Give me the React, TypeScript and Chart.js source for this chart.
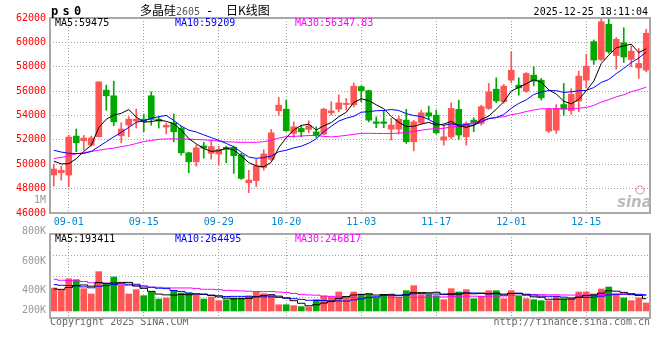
import React, { useEffect, useRef } from 'react';
import { Chart, registerables } from 'chart.js';

Chart.register(...registerables);

// ---------------- DATA ----------------
const dates = ['08-28','08-29','09-01','09-02','09-03','09-04','09-05','09-08','09-09','09-10','09-11','09-12','09-15','09-16','09-17','09-18','09-19','09-22','09-23','09-24','09-25','09-26','09-29','09-30','10-09','10-10','10-13','10-14','10-15','10-16','10-17','10-20','10-21','10-22','10-23','10-24','10-27','10-28','10-29','10-30','10-31','11-03','11-04','11-05','11-06','11-07','11-10','11-11','11-12','11-13','11-14','11-17','11-18','11-19','11-20','11-21','11-24','11-25','11-26','11-27','11-28','12-01','12-02','12-03','12-04','12-05','12-08','12-09','12-10','12-11','12-12','12-15','12-16','12-17','12-18','12-19','12-22','12-23','12-24','12-25'];

const dateTicks = ['09-01', '09-15', '09-29', '10-20', '11-03', '11-17', '12-01', '12-15'];

const opens = [49115,49300,49115,52310,51930,51570,52250,56080,55615,52340,
  53210,53540,53700,55615,53700,53050,53400,52940,50940,50200,
  51500,50900,50840,51390,51390,50760,48480,48650,49740,50400,
  54400,54520,52530,52940,52860,52660,52480,54220,54520,54900,
  54880,56370,56040,53480,53480,52880,52880,53620,51840,53400,
  54220,54030,51980,52250,54500,52250,53620,53350,54580,56160,
  55130,56900,56490,56000,57310,56900,52720,52800,54900,54400,
  55180,56900,60060,58600,61480,58920,59970,58600,57910,57720];

const highs = [50020,49850,52390,52890,52370,52310,56760,56490,56820,53400,
  53900,54530,54120,55940,53870,53380,54120,53130,51000,51570,
  51800,51980,51490,51490,51490,50900,49500,50400,51200,52860,
  55480,55260,53480,53210,53570,53070,54600,55130,55700,55400,
  56680,56440,56080,53890,54400,53760,53950,54500,53600,54440,
  54770,54440,53210,55040,55260,53480,53820,54850,56630,57090,
  56550,59230,57090,57530,58000,57040,54600,54900,56630,56200,
  57640,59010,60200,62000,62000,60400,61200,59720,59500,61070];

const lows = [48210,48700,48160,51030,51160,51490,52250,54440,53160,51760,
  52260,52970,52670,53200,52970,52500,51840,50750,49300,49850,
  50500,50430,49930,50120,49250,48760,47660,48160,49520,50300,
  54030,52700,52200,52250,52580,52200,52400,54030,54300,54440,
  54700,55130,53480,53000,53000,51980,52480,51710,51100,53300,
  53700,52480,51570,52100,52040,51570,52670,53200,54500,55050,
  55000,56680,55670,55900,56430,55260,52600,52530,54030,54100,
  54300,56270,58190,58500,59100,57800,58350,58000,57040,57580];

const closes = [49610,49500,52230,51760,52150,52150,56760,55615,53480,52890,
  53700,53700,53500,53680,53540,53200,52660,50940,50200,51350,
  51330,51450,51220,51220,50700,48840,48700,49850,50840,52580,
  54850,52750,53070,52660,53150,52390,54520,54380,55040,55000,
  56400,56040,53620,53350,53350,53210,53700,51840,53480,54220,
  53950,52580,52250,54580,52400,53350,53350,54720,55940,55200,
  56410,57720,56270,57450,56820,55450,54500,54580,54520,55750,
  57230,58050,58550,61700,59230,60250,58800,59280,58270,60750];

const volumes = [367000,340000,515000,499000,356000,271000,627000,431000,542000,410000,
  271000,340000,244000,303000,191000,207000,324000,287000,287000,260000,
  191000,223000,164000,180000,207000,207000,244000,303000,276000,260000,
  100000,100000,85000,69000,64000,180000,234000,218000,303000,218000,
  303000,271000,271000,207000,260000,271000,207000,324000,404000,260000,
  260000,244000,180000,356000,303000,340000,196000,234000,324000,324000,
  196000,324000,234000,196000,180000,164000,164000,234000,196000,196000,
  303000,303000,271000,351000,383000,271000,207000,164000,207000,128000];

// moving-average values before enough history is on screen
const ma5Lead = [50250, 50030, 50050, 50450];
const ma10Lead = [51150, 51000, 50900, 50880, 50890, 51050, 51450, 51850, 52250];
const ma30Lead = [50470,50560,50700,50850,50950,51050,51150,51250,51320,51450,51550,51700,51860,51950,52050,52080,52080,52070,52060,52030,52000,51960,51900,51850,51820,51800,51800,51800,51850];
const vma5Lead = [351000, 345000, 375000, 405000];
const vma10Lead = [420000, 410000, 405000, 400000, 385000, 370000, 395000, 405000, 420000];
const vma30Lead = [505000,490000,486000,484000,470000,450000,447000,447000,440000,415000,410000,400000,380000,378000,378000,370000,367000,367000,367000,360000,346000,346000,340000,330000,325000,320000,315000,310000,308000];

const priceLegend = ['MA5:59475', 'MA10:59209', 'MA30:56347.83'];
const volLegend = ['MA5:193411', 'MA10:264495', 'MA30:246817'];
const volLabels = ['800K', '600K', '400K', '200K'];

const PRICE_MIN = 46000;
const PRICE_MAX = 62000;
const PRICE_STEP = 2000;
const VOL_MIN = -112000;
const VOL_MAX = 1228000;

// ---------------- STYLE ----------------
const MONO = "'DejaVu Sans Mono', 'Liberation Mono', monospace";
const CJK = "'Noto Sans CJK SC', sans-serif";
const RED = '#ff5555';
const GREEN = '#00a800';
const GRID = '#a0a0a0';
const FRAME = '#a8a8a8';

function movingAvg(values: number[], n: number, lead: number[]) {
  return values.map((_, i) => {
    if (i < n - 1) return lead[i];
    let s = 0;
    for (let j = i - n + 1; j <= i; j++) s += values[j];
    return s / n;
  });
}

function txt(ctx: CanvasRenderingContext2D, s: string, x: number, y: number, color: string, font: string, align: CanvasTextAlign = 'left', baseline: CanvasTextBaseline = 'alphabetic') {
  ctx.fillStyle = color;
  ctx.font = font;
  ctx.textAlign = align;
  ctx.textBaseline = baseline;
  ctx.fillText(s, x, y);
}

function drawFrame(chart: any) {
  const ctx = chart.ctx;
  const a = chart.chartArea;
  ctx.save();
  ctx.setLineDash([]);
  ctx.strokeStyle = FRAME;
  ctx.lineWidth = 2;
  ctx.strokeRect(a.left, a.top, a.right - a.left, a.bottom - a.top);
  ctx.restore();
}

const gridColor = (c: any) => (dateTicks.includes(dates[c.index]) ? GRID : 'rgba(0,0,0,0)');

export default function App() {
  const priceRef = useRef<HTMLCanvasElement>(null);
  const volRef = useRef<HTMLCanvasElement>(null);

  useEffect(() => {
    const up = closes.map((c, i) => c >= opens[i]);
    const colors = up.map((u) => (u ? RED : GREEN));
    const ma5 = movingAvg(closes, 5, ma5Lead);
    const ma10 = movingAvg(closes, 10, ma10Lead);
    const ma30 = movingAvg(closes, 30, ma30Lead);
    const vma5 = movingAvg(volumes, 5, vma5Lead);
    const vma10 = movingAvg(volumes, 10, vma10Lead);
    const vma30 = movingAvg(volumes, 30, vma30Lead);

    const lineDs = (data: number[], color: string, stepped: any = false) => ({
      type: 'line' as const,
      data,
      borderColor: color,
      borderWidth: 1,
      pointRadius: 0,
      tension: 0,
      stepped,
      order: 0,
    });

    const priceOverlay = {
      id: 'priceOverlay',
      afterDraw(chart: any) {
        drawFrame(chart);
        const ctx = chart.ctx;
        ctx.save();
        // header
        const bold = `bold 12px ${MONO}`;
        txt(ctx, 'p', 51, 15, '#000', bold);
        txt(ctx, 's', 62.5, 15, '#000', bold);
        txt(ctx, '0', 74, 15, '#000', bold);
        txt(ctx, '多晶硅', 140, 15, '#000', `12px ${CJK}`);
        txt(ctx, '2605', 176, 15, '#555', `10px ${MONO}`);
        txt(ctx, '-', 206, 15, '#000', `12px ${MONO}`);
        txt(ctx, '日K线图', 226, 15, '#000', `12px ${CJK}`);
        txt(ctx, '2025-12-25 18:11:04', 648, 15, '#000', `10px ${MONO}`, 'right');
        // legends
        const f = `10px ${MONO}`;
        txt(ctx, priceLegend[0], 55, 26, '#000', f);
        txt(ctx, priceLegend[1], 175, 26, '#0000ff', f);
        txt(ctx, priceLegend[2], 295, 26, '#ff00ff', f);
        // odd axis label
        txt(ctx, '1M', 46, 200, '#999', f, 'right', 'middle');
        // watermark
        txt(ctx, 'sina', 617, 207, 'rgba(175,175,175,0.85)', `italic bold 15px 'DejaVu Sans', sans-serif`);
        ctx.strokeStyle = 'rgba(230,120,120,0.6)';
        ctx.lineWidth = 1.5;
        ctx.beginPath();
        ctx.arc(640, 190, 4, 0, Math.PI * 2);
        ctx.stroke();
        // footer
        txt(ctx, 'Copyright 2025 SINA.COM', 50, 325, '#666', f);
        txt(ctx, 'http://finance.sina.com.cn', 650, 325, '#666', f, 'right');
        ctx.restore();
      },
    };

    const volOverlay = {
      id: 'volOverlay',
      afterDraw(chart: any) {
        drawFrame(chart);
        const ctx = chart.ctx;
        ctx.save();
        const f = `10px ${MONO}`;
        txt(ctx, volLegend[0], 55, 242, '#000', f);
        txt(ctx, volLegend[1], 175, 242, '#0000ff', f);
        txt(ctx, volLegend[2], 295, 242, '#ff00ff', f);
        const ys = [231, 261, 290, 310];
        volLabels.forEach((s, i) => txt(ctx, s, 46, ys[i], '#999', f, 'right', 'middle'));
        ctx.restore();
      },
    };

    const xScale = (showLabels: boolean) => ({
      type: 'category' as const,
      offset: true,
      grid: { offset: false, color: gridColor, lineWidth: 1, drawTicks: false },
      border: { display: false, dash: [1, 2] },
      ticks: {
        display: showLabels,
        autoSkip: false,
        maxRotation: 0,
        minRotation: 0,
        padding: 3,
        color: '#0088cc',
        font: { family: MONO, size: 10 },
        callback: (_v: any, i: number) => (dateTicks.includes(dates[i]) ? dates[i] : ''),
      },
      afterFit: (s: any) => {
        s.height = showLabels ? 20 : 0;
      },
    });

    const price = new Chart(priceRef.current!, {
      type: 'bar',
      data: {
        labels: dates,
        datasets: [
          lineDs(ma5, '#000000'),
          lineDs(ma10, '#0000ff'),
          lineDs(ma30, '#ff00ff'),
          {
            type: 'bar',
            data: opens.map((o, i) => [o, closes[i]]),
            backgroundColor: colors,
            borderWidth: 0,
            barThickness: 6,
            grouped: false,
            minBarLength: 1,
            order: 1,
          } as any,
          {
            type: 'bar',
            data: lows.map((l, i) => [l, highs[i]]),
            backgroundColor: colors,
            borderWidth: 0,
            barThickness: 1,
            grouped: false,
            order: 2,
          } as any,
        ],
      },
      options: {
        animation: false,
        responsive: false,
        maintainAspectRatio: false,
        layout: { padding: { left: 0, right: 10, top: 18, bottom: 127 } },
        plugins: { legend: { display: false }, tooltip: { enabled: false } },
        scales: {
          x: xScale(true) as any,
          y: {
            min: PRICE_MIN,
            max: PRICE_MAX,
            grid: { color: GRID, lineWidth: 1, drawTicks: false },
            border: { display: false, dash: [1, 2] },
            ticks: {
              stepSize: PRICE_STEP,
              padding: 4,
              color: '#ff0000',
              font: { family: MONO, size: 10 },
              callback: (v: any) => String(v),
            },
            afterFit: (s: any) => {
              s.width = 50;
            },
          } as any,
        },
      },
      plugins: [priceOverlay],
    });

    const vol = new Chart(volRef.current!, {
      type: 'bar',
      data: {
        labels: dates,
        datasets: [
          lineDs(vma5, '#000000', 'middle'),
          lineDs(vma10, '#0000ff', 'middle'),
          lineDs(vma30, '#ff00ff', 'middle'),
          {
            type: 'bar',
            data: volumes,
            backgroundColor: colors,
            borderWidth: 0,
            barThickness: 6,
            grouped: false,
            order: 1,
          } as any,
        ],
      },
      options: {
        animation: false,
        responsive: false,
        maintainAspectRatio: false,
        layout: { padding: { left: 0, right: 10, top: 234, bottom: 42 } },
        plugins: { legend: { display: false }, tooltip: { enabled: false } },
        scales: {
          x: xScale(false) as any,
          y: {
            min: VOL_MIN,
            max: VOL_MAX,
            grid: { color: GRID, lineWidth: 1, drawTicks: false },
            border: { display: false, dash: [1, 2] },
            ticks: { display: false },
            afterBuildTicks: (s: any) => {
              s.ticks = [0, 1, 2, 3, 4].map((k) => ({ value: VOL_MIN + (k * (VOL_MAX - VOL_MIN)) / 4 }));
            },
            afterFit: (s: any) => {
              s.width = 50;
            },
          } as any,
        },
      },
      plugins: [volOverlay],
    });

    return () => {
      price.destroy();
      vol.destroy();
    };
  }, []);

  const cs: React.CSSProperties = { position: 'absolute', left: 0, top: 0 };
  return (
    <div style={{ position: 'absolute', left: 0, top: 0, width: 660, height: 360, background: '#fff' }}>
      <canvas ref={priceRef} width={660} height={360} style={cs} />
      <canvas ref={volRef} width={660} height={360} style={cs} />
    </div>
  );
}
